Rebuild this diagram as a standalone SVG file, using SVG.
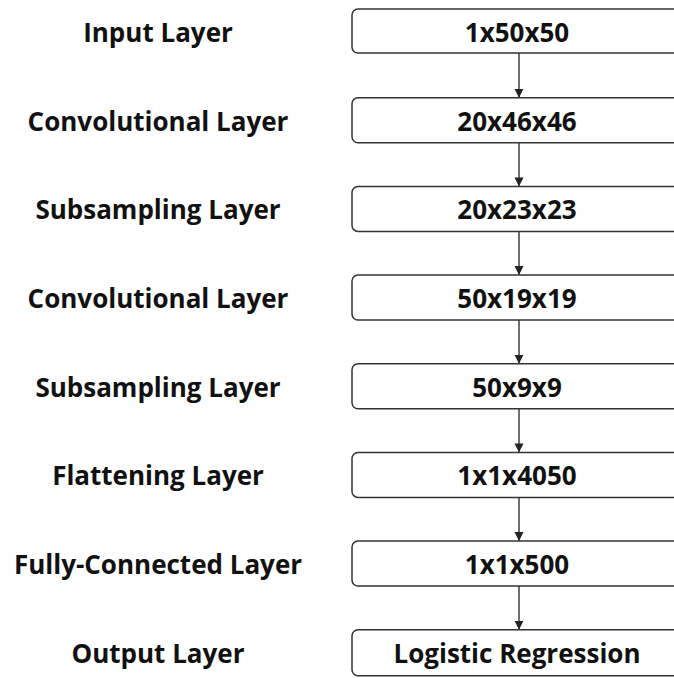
<svg xmlns="http://www.w3.org/2000/svg" width="674" height="678" viewBox="0 0 674 678">
<defs>
<style>
.lbl{font-family:"Open Sans",Lato,sans-serif;font-weight:bold;font-size:26px;fill:#111;text-anchor:middle}
.box{fill:#fff;stroke:#333;stroke-width:1.5}
.con{stroke:#222;stroke-width:1.3;fill:none}
</style>
<marker id="ah" viewBox="0 0 10 10" refX="10" refY="5" markerWidth="9" markerHeight="10" markerUnits="userSpaceOnUse" orient="auto">
<path d="M0,0 L10,5 L0,10 z" fill="#222"/>
</marker>
</defs>
<rect width="674" height="678" fill="#fff"/>
<g id="labels">
<text class="lbl" x="158" y="42">Input Layer</text>
<text class="lbl" x="158" y="131">Convolutional Layer</text>
<text class="lbl" x="158" y="219">Subsampling Layer</text>
<text class="lbl" x="158" y="308">Convolutional Layer</text>
<text class="lbl" x="158" y="397">Subsampling Layer</text>
<text class="lbl" x="158" y="485">Flattening Layer</text>
<text class="lbl" x="158" y="574">Fully-Connected Layer</text>
<text class="lbl" x="158" y="663">Output Layer</text>
</g>
<g id="connectors">
<line class="con" x1="519" y1="53" x2="519" y2="97.7" marker-end="url(#ah)"/>
<line class="con" x1="519" y1="142.7" x2="519" y2="186.4" marker-end="url(#ah)"/>
<line class="con" x1="519" y1="231.4" x2="519" y2="275" marker-end="url(#ah)"/>
<line class="con" x1="519" y1="320" x2="519" y2="363.7" marker-end="url(#ah)"/>
<line class="con" x1="519" y1="408.7" x2="519" y2="452.4" marker-end="url(#ah)"/>
<line class="con" x1="519" y1="497.4" x2="519" y2="541" marker-end="url(#ah)"/>
<line class="con" x1="519" y1="586" x2="519" y2="629.8" marker-end="url(#ah)"/>
</g>
<g id="n1"><rect class="box" x="352" y="9" width="340" height="44" rx="6"/><text class="lbl" x="517" y="42">1x50x50</text></g>
<g id="n2"><rect class="box" x="352" y="97.7" width="340" height="45" rx="6"/><text class="lbl" x="517" y="131">20x46x46</text></g>
<g id="n3"><rect class="box" x="352" y="186.4" width="340" height="45" rx="6"/><text class="lbl" x="517" y="219">20x23x23</text></g>
<g id="n4"><rect class="box" x="352" y="275" width="340" height="45" rx="6"/><text class="lbl" x="517" y="308">50x19x19</text></g>
<g id="n5"><rect class="box" x="352" y="363.7" width="340" height="45" rx="6"/><text class="lbl" x="517" y="397">50x9x9</text></g>
<g id="n6"><rect class="box" x="352" y="452.4" width="340" height="45" rx="6"/><text class="lbl" x="517" y="485">1x1x4050</text></g>
<g id="n7"><rect class="box" x="352" y="541" width="340" height="45" rx="6"/><text class="lbl" x="517" y="574">1x1x500</text></g>
<g id="n8"><rect class="box" x="352" y="629.8" width="340" height="46" rx="6"/><text class="lbl" x="517" y="663">Logistic Regression</text></g>
</svg>
